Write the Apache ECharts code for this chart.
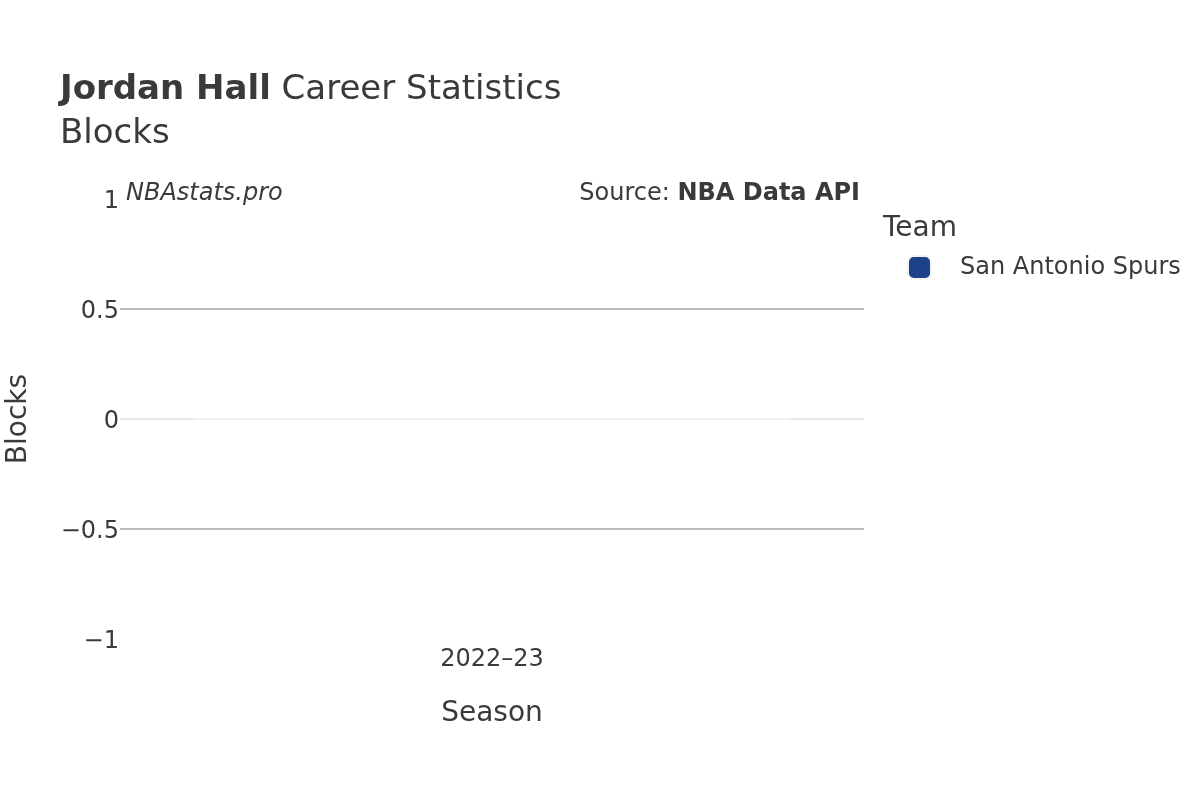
<!DOCTYPE html>
<html>
<head>
  <title>Jordan Hall Career Statistics - Blocks</title>
  <script src="https://cdn.jsdelivr.net/npm/echarts@6/dist/echarts.min.js"></script>
  <style>
    body { margin: 0; background: #fff; }
    #chart { width: 1200px; height: 800px; }
  </style>
</head>
<body>
  <div id="chart"></div>
  <script>
    // Data
    const seasons = ['2022–23'];
    const teamName = 'San Antonio Spurs';
    const blocks = [0];
    const yTicks = [-1, -0.5, 0, 0.5, 1];

    const textColor = '#3a3a3a';
    const font = 'DejaVu Sans';

    const chart = echarts.init(document.getElementById('chart'));

    const option = {
      backgroundColor: '#fff',
      textStyle: { fontFamily: font, color: textColor },
      title: {
        text: '{b|Jordan Hall} Career Statistics\nBlocks',
        left: 55,
        top: 63,
        textStyle: {
          fontFamily: font,
          fontSize: 34,
          fontWeight: 'normal',
          color: textColor,
          lineHeight: 44,
          rich: {
            b: { fontFamily: font, fontSize: 34, fontWeight: 'bold', color: textColor, lineHeight: 44 }
          }
        }
      },
      legend: {
        data: [teamName],
        orient: 'vertical',
        left: 907,
        top: 255,
        padding: 0,
        icon: 'roundRect',
        itemWidth: 23,
        itemHeight: 23,
        textStyle: { fontFamily: font, fontSize: 24, color: textColor, padding: [0, 0, 0, 24] }
      },
      graphic: [
        {
          type: 'text', left: 126, top: 182,
          style: { text: 'NBAstats.pro', font: 'italic 24px "DejaVu Sans"', fill: textColor }
        },
        {
          type: 'text', right: 340, top: 182,
          style: {
            text: 'Source: {b|NBA Data API}',
            font: '24px "DejaVu Sans"',
            fill: textColor,
            rich: { b: { fontFamily: font, fontSize: 24, fontWeight: 'bold', fill: textColor } }
          }
        },
        {
          type: 'text', left: 883, top: 215,
          style: { text: 'Team', font: '28px "DejaVu Sans"', fill: textColor }
        }
      ],
      grid: { left: 120, right: 336, top: 199, bottom: 161, containLabel: false, outerBoundsMode: 'none' },
      xAxis: {
        type: 'category',
        data: seasons,
        name: 'Season',
        nameLocation: 'middle',
        nameGap: 61,
        nameTextStyle: { fontFamily: font, fontSize: 28, color: textColor },
        axisLine: { show: false, onZero: false },
        axisTick: { show: false },
        axisLabel: { fontFamily: font, fontSize: 24, color: textColor, margin: 9 },
        splitLine: { show: false }
      },
      yAxis: {
        type: 'value',
        min: yTicks[0],
        max: yTicks[yTicks.length - 1],
        interval: 0.5,
        name: 'Blocks',
        nameLocation: 'middle',
        nameGap: 87,
        nameTextStyle: { fontFamily: font, fontSize: 28, color: textColor },
        axisLine: { show: false },
        axisTick: { show: false },
        axisLabel: {
          fontFamily: font, fontSize: 24, color: textColor, margin: 1,
          formatter: v => '{t|' + (v < 0 ? '\u2212' + Math.abs(v) : String(v)) + '}',
          rich: { t: { fontFamily: font, fontSize: 24, color: textColor, padding: [6, 0, 0, 0] } }
        },
        splitLine: {
          show: true,
          lineStyle: { color: ['rgba(0,0,0,0)', '#bdbdbd', '#e8e8e8', '#bdbdbd', 'rgba(0,0,0,0)'], width: 2 }
        }
      },
      series: [
        {
          name: teamName,
          type: 'bar',
          data: blocks,
          barWidth: '80%',
          itemStyle: { color: '#1d428a', borderColor: '#f4f4f4', borderWidth: 1 }
        }
      ]
    };

    chart.setOption(option);
  </script>
</body>
</html>
